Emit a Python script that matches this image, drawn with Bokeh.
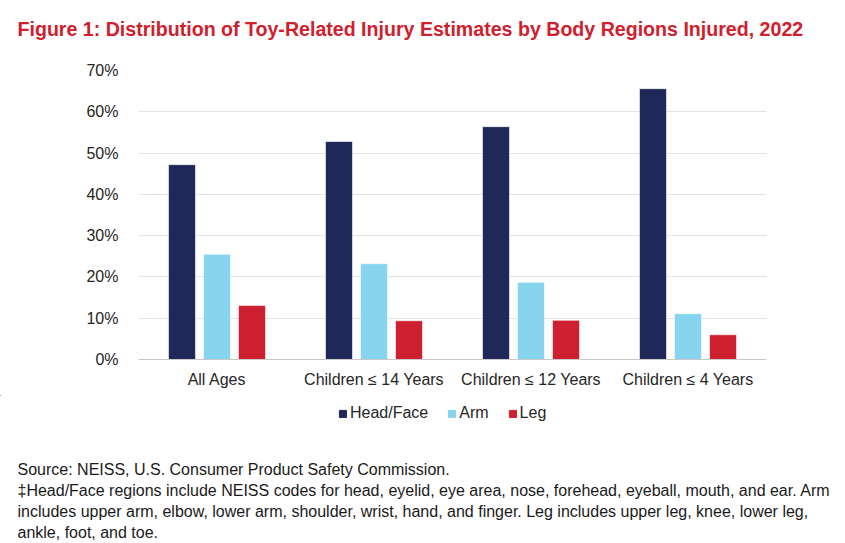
from bokeh.plotting import figure
from bokeh.layouts import column
from bokeh.models import (ColumnDataSource, FactorRange, Range1d, Legend, LegendItem,
                          PrintfTickFormatter, FixedTicker)
from bokeh.core.properties import value
from bokeh.transform import dodge
from bokeh.embed import file_html
from bokeh.resources import INLINE

# ---- data ----
categories = ["All Ages", "Children \u2264 14 Years", "Children \u2264 12 Years", "Children \u2264 4 Years"]
head_face = [47.2, 52.8, 56.4, 65.6]
arm = [25.5, 23.2, 18.7, 11.1]
leg = [13.1, 9.4, 9.5, 6.0]
series_names = ["Head/Face", "Arm", "Leg"]
y_ticks = [0, 10, 20, 30, 40, 50, 60, 70]

title_text = "Figure 1: Distribution of Toy-Related Injury Estimates by Body Regions Injured, 2022"
notes = [
    "Source: NEISS, U.S. Consumer Product Safety Commission.",
    "\u2021Head/Face regions include NEISS codes for head, eyelid, eye area, nose, forehead, eyeball, mouth, and ear. Arm",
    "includes upper arm, elbow, lower arm, shoulder, wrist, hand, and finger. Leg includes upper leg, knee, lower leg,",
    "ankle, foot, and toe.",
]

colors = ["#1F2858", "#86D4EE", "#CE2030"]
FONT = "Liberation Sans"
TEXT_COLOR = "#262626"
W = 837


def blank_fig(h):
    f = figure(width=W, height=h, x_range=Range1d(0, W), y_range=Range1d(h, 0),
               x_axis_type=None, y_axis_type=None, output_backend="svg", toolbar_location=None,
               min_border=0, min_border_left=0, min_border_right=0,
               min_border_top=0, min_border_bottom=0)
    f.outline_line_color = None
    f.grid.visible = False
    return f


# ---- title strip ----
HT = 45
pt = blank_fig(HT)
pt.text(x=[17], y=[28.3], text=[title_text], text_font=value(FONT), text_font_style="bold",
        text_font_size="19.6px", text_color="#D0202E", text_baseline="alphabetic")

# ---- chart ----
HC = 350
src = ColumnDataSource(dict(cat=categories, head=head_face, arm=arm, leg=leg))
p = figure(x_range=FactorRange(*categories), y_range=Range1d(0, 70),
           width=W, height=HC, output_backend="svg", toolbar_location=None,
           min_border_left=138, min_border_right=71, min_border_top=25, min_border_bottom=36)
p.outline_line_color = None

offsets = [-0.223, 0.0, 0.223]
fields = ["head", "arm", "leg"]
for f, off, c in zip(fields, offsets, colors):
    p.vbar(x=dodge("cat", off, range=p.x_range), top=f, width=0.172, source=src,
           fill_color=c, line_color="white", line_width=0.6)

p.yaxis.ticker = FixedTicker(ticks=y_ticks)
p.yaxis.formatter = PrintfTickFormatter(format="%d%%")
p.yaxis.axis_line_color = None
p.yaxis.major_tick_line_color = None
p.yaxis.minor_tick_line_color = None
p.yaxis.major_label_standoff = 14
p.yaxis.major_label_text_font = FONT
p.yaxis.major_label_text_font_size = "16px"
p.yaxis.major_label_text_color = TEXT_COLOR

p.xaxis.axis_line_color = "#c8c8c8"
p.xaxis.axis_line_width = 1.2
p.xaxis.major_tick_line_color = None
p.xaxis.minor_tick_line_color = None
p.xaxis.major_label_standoff = 5
p.xaxis.major_label_text_font = FONT
p.xaxis.major_label_text_font_size = "16px"
p.xaxis.major_label_text_color = TEXT_COLOR

p.xgrid.grid_line_color = None
p.ygrid.grid_line_color = "#e3e3e3"
p.ygrid.grid_line_width = 1

# ---- legend + notes strip ----
HN = 145
pn = blank_fig(HN)
legend_renderers = [pn.vbar(x=[-500], top=[-500], bottom=[-600], width=1, fill_color=c, line_color=c)
                    for c in colors]
legend = Legend(items=[LegendItem(label=n, renderers=[r]) for n, r in zip(series_names, legend_renderers)],
                orientation="horizontal", location=(338, 118),
                glyph_width=9, glyph_height=9, label_standoff=3, spacing=19,
                padding=0, margin=0, border_line_color=None, background_fill_alpha=0,
                label_text_font=FONT, label_text_font_size="16px", label_text_color=TEXT_COLOR)
pn.add_layout(legend, "center")

note_src = ColumnDataSource(dict(x=[17] * len(notes), y=[74.3 + 21 * i for i in range(len(notes))], t=notes))
pn.text(x="x", y="y", text="t", source=note_src, text_font=value(FONT), text_font_size="16px",
        text_color="#1a1a1a", text_baseline="alphabetic")

layout = column(column(pt), p, column(pn), spacing=0)
open("out.html", "w").write(file_html(layout, INLINE))
